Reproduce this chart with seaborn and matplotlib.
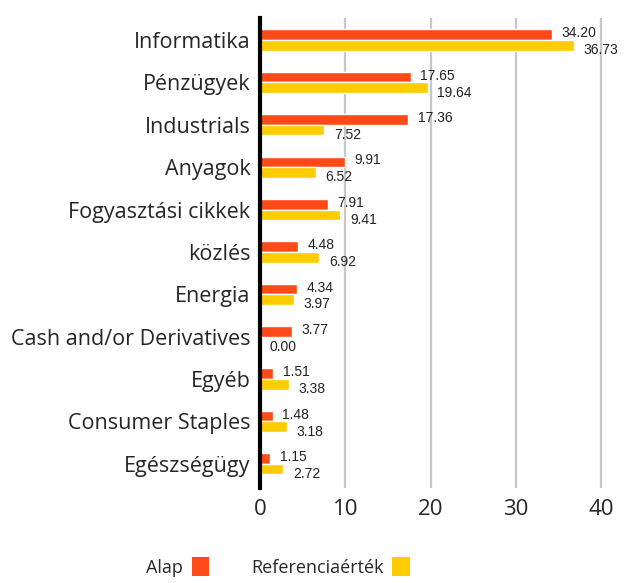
import pandas as pd
import matplotlib
matplotlib.use("Agg")
import matplotlib.pyplot as plt
import seaborn as sns
from matplotlib.patches import Patch

categories = ["Informatika", "Pénzügyek", "Industrials", "Anyagok", "Fogyasztási cikkek",
              "közlés", "Energia", "Cash and/or Derivatives", "Egyéb", "Consumer Staples",
              "Egészségügy"]
alap = [34.20, 17.65, 17.36, 9.91, 7.91, 4.48, 4.34, 3.77, 1.51, 1.48, 1.15]
referencia = [36.73, 19.64, 7.52, 6.52, 9.41, 6.92, 3.97, 0.00, 3.38, 3.18, 2.72]
series = ["Alap", "Referenciaérték"]
colors = ["#FF4A17", "#FFCC00"]

df = pd.DataFrame({
    "Szektor": categories * 2,
    "Érték": alap + referencia,
    "Sorozat": [series[0]] * len(categories) + [series[1]] * len(categories),
})

sns.set_style("white")
plt.rcParams["font.family"] = ["Open Sans", "DejaVu Sans"]

fig = plt.figure(figsize=(6.24, 5.83), dpi=100)
ax = fig.add_axes([260 / 624, 1 - 488 / 583, 350 / 624, (488 - 18) / 583])

sns.barplot(data=df, y="Szektor", x="Érték", hue="Sorozat", palette=colors,
            orient="h", width=0.5, saturation=1, ax=ax, legend=False, zorder=3)

ax.set_xlim(0, 41)
ax.set_ylim(10.57, -0.52)
ax.set_xticks([0, 10, 20, 30, 40])
ax.set_xlabel("")
ax.set_ylabel("")
for x in [10, 20, 30, 40]:
    ax.axvline(x, color="#c8c8c8", lw=1.6, zorder=1, ymin=0, ymax=1)

for s in ["top", "right", "bottom"]:
    ax.spines[s].set_visible(False)
ax.spines["left"].set_color("black")
ax.spines["left"].set_linewidth(3)
ax.spines["left"].set_zorder(5)

ax.tick_params(axis="y", length=0, labelsize=15.5, pad=7)
ax.tick_params(axis="x", length=0, labelsize=16, pad=8)

for i, (a, r) in enumerate(zip(alap, referencia)):
    ax.annotate(f"{a:.2f}", (a, i - 0.125), xytext=(7, 1), textcoords="offset points",
                va="center", ha="left", fontsize=10, family="Liberation Sans", color="#222222")
    ax.annotate(f"{r:.2f}", (r, i + 0.125), xytext=(7, -3.5), textcoords="offset points",
                va="center", ha="left", fontsize=10, family="Liberation Sans", color="#222222")

handles = [Patch(facecolor=c, edgecolor="none") for c in colors]
fig.legend(handles, series, loc="center", bbox_to_anchor=(278 / 624, 1 - 567 / 583),
           ncol=2, frameon=False, markerfirst=False, fontsize=13,
           handlelength=0.95, handleheight=1.25, handletextpad=0.5, columnspacing=2.3)

fig.savefig("out.png", dpi=100)
